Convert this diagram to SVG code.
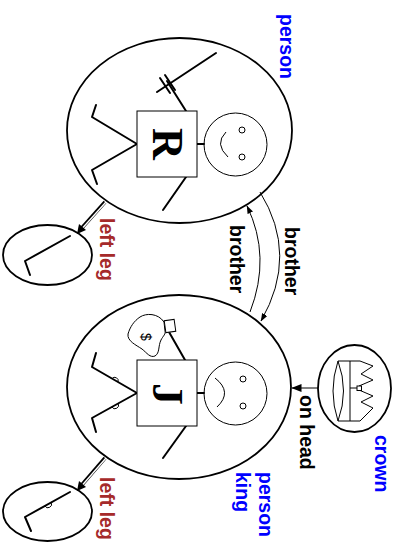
<svg xmlns="http://www.w3.org/2000/svg" width="399" height="555" viewBox="0 0 399 555">
  <style>
    .oval { fill: none; stroke: #000; stroke-width: 1.8; }
    .thin { fill: none; stroke: #000; stroke-width: 1; }
    .limb { fill: none; stroke: #000; stroke-width: 2; stroke-linecap: round; stroke-linejoin: round; }
    .box { fill: #fff; stroke: #000; stroke-width: 1; }
    .lbl { font-family: "Liberation Sans", Arial, sans-serif; font-weight: bold; font-size: 19.5px; }
    .blue { fill: #0000ff; }
    .red { fill: #a52a2a; }
    .black { fill: #000; }
    .big { font-family: "Liberation Serif", "Times New Roman", serif; font-weight: bold; font-size: 44px; text-anchor: middle; }
  </style>
  <defs>
    <marker id="tip" markerWidth="8" markerHeight="6" refX="7.5" refY="3" orient="auto" markerUnits="userSpaceOnUse">
      <path d="M0,0 L8,3 L0,6 Z" fill="#000"/>
    </marker>
    <marker id="tipBig" markerWidth="10" markerHeight="8" refX="9.5" refY="4" orient="auto" markerUnits="userSpaceOnUse">
      <path d="M0,0 L10,4 L0,8 Z" fill="#000"/>
    </marker>
  </defs>

  <!-- Richard -->
  <g id="richard">
    <ellipse class="oval" cx="179.5" cy="130.5" rx="112.5" ry="92.5"/>
    <!-- legs -->
    <polyline class="limb" points="96,105 92,117 137,144 92,170 97,184"/>
    <!-- arms and sword -->
    <line class="limb" x1="186" y1="111" x2="167" y2="81"/>
    <line class="limb" x1="157" y1="92" x2="216" y2="53"/>
    <line class="limb" x1="160" y1="78" x2="170" y2="93"/>
    <line class="limb" x1="165" y1="75" x2="175" y2="90"/>
    <line class="limb" x1="186" y1="177" x2="163" y2="210"/>
    <!-- neck and head -->
    <line class="limb" x1="197" y1="144" x2="204" y2="144"/>
    <circle class="thin" cx="235.5" cy="144.5" r="31.5"/>
    <circle class="thin" cx="242" cy="130" r="3"/>
    <circle class="thin" cx="242" cy="157" r="3"/>
    <path class="thin" d="M226,132 Q214,144 228,157"/>
    <!-- body -->
    <rect class="box" x="137" y="111" width="60" height="66"/>
    <text class="big" transform="translate(153,144) rotate(90)">R</text>
  </g>

  <g id="richard-leg">
    <ellipse class="oval" cx="47.5" cy="255" rx="44.5" ry="30"/>
    <polyline class="limb" points="70,236 25,261 30,275"/>
  </g>

  <!-- John -->
  <g id="john">
    <ellipse class="oval" cx="179" cy="387" rx="112" ry="92"/>
    <!-- legs with knee caps -->
    <polyline class="limb" points="96,353 92,367 137,393 92,418 96,432"/>
    <path class="thin" d="M118,382 A3.5,3.5 0 0 0 112,378.6" stroke-width="1.5"/>
    <path class="thin" d="M118.1,403.5 A3.5,3.5 0 0 1 111.9,406.9" stroke-width="1.5"/>
    <!-- arms -->
    <line class="limb" x1="185" y1="360" x2="169" y2="332"/>
    <line class="limb" x1="186" y1="426" x2="163" y2="458"/>
    <!-- money bag -->
    <path class="thin" stroke-width="1.5" d="M164,322 C158,313 146,313 140,317 C134,321 130,327 128,334 C127,341 136,345 142,349 C147,353 150,358 155,356 C160,353 158,346 161,340 C163,336 166,334 165,331 Z"/>
    <rect class="box" x="165" y="320" width="10" height="12" transform="rotate(-8 170 326)"/>
    <text transform="translate(146,337) rotate(90)" font-family="Liberation Sans, Arial, sans-serif" font-size="14" text-anchor="middle" dy="5" fill="#000">$</text>
    <!-- neck and head -->
    <line class="limb" x1="197" y1="393" x2="204" y2="393"/>
    <circle class="thin" cx="235.5" cy="393.5" r="31.5"/>
    <circle class="thin" cx="243" cy="379" r="3"/>
    <circle class="thin" cx="243" cy="406" r="3"/>
    <path class="thin" d="M215,378 Q233,392 217,407"/>
    <!-- body -->
    <rect class="box" x="137" y="360" width="60" height="66"/>
    <text class="big" transform="translate(153,394) rotate(90)">J</text>
  </g>

  <g id="john-leg">
    <ellipse class="oval" cx="47.5" cy="511.5" rx="44.5" ry="29.5"/>
    <polyline class="limb" points="70,492 25,517 31,531"/>
    <path class="thin" stroke-width="1.5" d="M51.1,502.5 A3.5,3.5 0 0 1 44.9,505.9"/>
  </g>

  <!-- Crown -->
  <g id="crown">
    <ellipse class="oval" cx="354.5" cy="388.5" rx="36.5" ry="43.5"/>
    <g class="thin" stroke-width="1.3">
      <path d="M338,361 Q328,391 338,421"/>
      <path d="M338,361 Q349,391 338,421"/>
      <line x1="350" y1="361" x2="350" y2="421"/>
      <path d="M338,361 L360,361 L373,366 L361,374 L373,380 L359,386 M359,390 L373,396 L361,402 L373,408 L360,421 L338,421"/>
      <line x1="350" y1="388" x2="357" y2="388"/>
      <rect x="357" y="386" width="4.5" height="4.5" fill="#fff"/>
    </g>
  </g>

  <!-- Connectors -->
  <g id="connectors">
    <!-- part-of links to the legs -->
    <line x1="105" y1="202" x2="80" y2="230" stroke="#000" stroke-width="3.6"/>
    <line x1="106" y1="202" x2="79" y2="232" stroke="#fff" stroke-width="1.4"/>
    <path d="M77,234 L79,224 L86,230 Z" fill="#000"/>
    <line x1="105" y1="458" x2="80" y2="487" stroke="#000" stroke-width="3.6"/>
    <line x1="106" y1="458" x2="79" y2="489" stroke="#fff" stroke-width="1.4"/>
    <path d="M77,491 L79,481 L86,487 Z" fill="#000"/>
    <!-- brother relations -->
    <path class="thin" d="M250,312 Q271.5,256.5 247,206" marker-end="url(#tip)"/>
    <path class="thin" d="M260,192 Q299,255 261,321" marker-end="url(#tip)"/>
    <!-- on head -->
    <line class="thin" x1="318" y1="388" x2="292" y2="388" marker-end="url(#tipBig)"/>
  </g>

  <!-- Labels -->
  <g id="labels">
    <text class="lbl blue" transform="translate(280,14) rotate(90)">person</text>
    <text class="lbl red" transform="translate(100,218) rotate(90)">left leg</text>
    <text class="lbl black" transform="translate(230,225) rotate(90)">brother</text>
    <text class="lbl black" transform="translate(285,227) rotate(90)">brother</text>
    <text class="lbl black" transform="translate(300,395) rotate(90)">on head</text>
    <text class="lbl blue" transform="translate(375,435) rotate(90)">crown</text>
    <text class="lbl blue" transform="translate(259,472) rotate(90)">person</text>
    <text class="lbl blue" transform="translate(236,472) rotate(90)">king</text>
    <text class="lbl red" transform="translate(100,477) rotate(90)">left leg</text>
  </g>
</svg>
